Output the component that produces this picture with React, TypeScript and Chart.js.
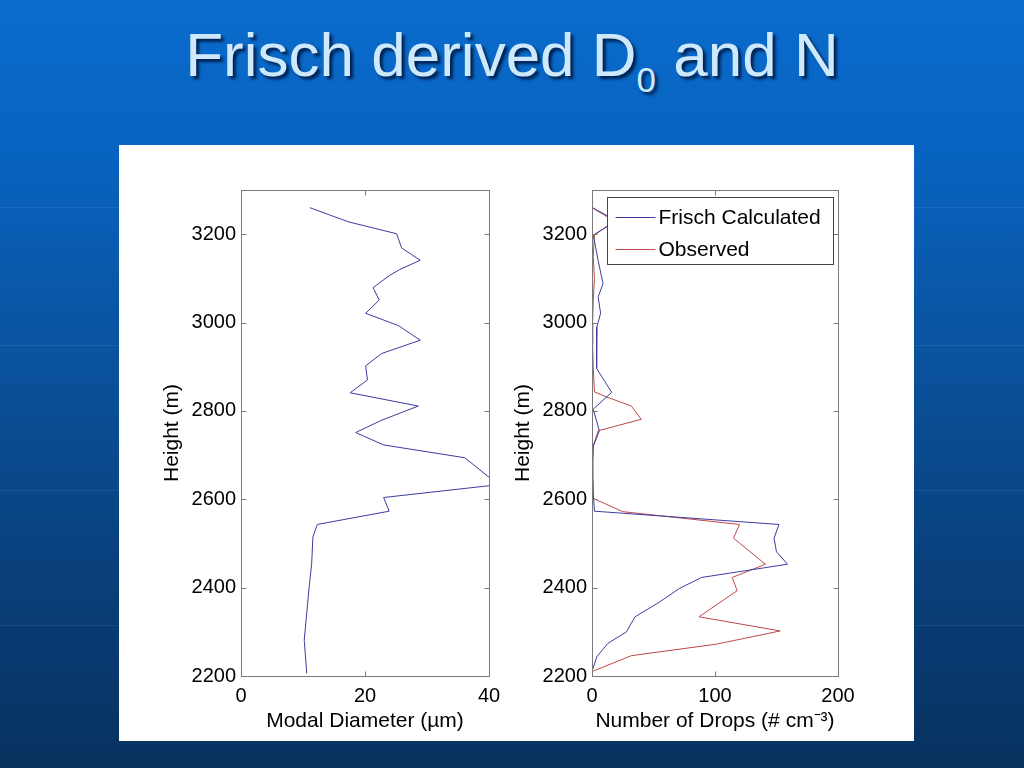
import React, { useEffect, useRef } from 'react';
import { Chart, registerables } from 'chart.js';

Chart.register(...registerables);

// ---- data ----
const heightTicks = [2200, 2400, 2600, 2800, 3000, 3200];
const diameterTicks = [0, 20, 40];
const dropTicks = [0, 100, 200];

const diameterHeights = [3260, 3228, 3201, 3169, 3141, 3120, 3107, 3079, 3051, 3021, 2993, 2960, 2930, 2902, 2870, 2841, 2811, 2779, 2751, 2723, 2694, 2633, 2604, 2573, 2543, 2515, 2455, 2402, 2342, 2281, 2206];
const diameterValues = [11.1, 17.3, 25.1, 25.9, 28.9, 25.6, 24.0, 21.3, 22.3, 20.1, 25.4, 28.9, 22.7, 20.1, 20.4, 17.6, 28.6, 22.7, 18.5, 23.0, 36.1, 41.5, 23.0, 23.9, 12.3, 11.6, 11.4, 11.0, 10.6, 10.2, 10.6];

const frischHeights = [3260, 3230, 3198, 3170, 3140, 3088, 3058, 3021, 2990, 2960, 2896, 2842, 2804, 2755, 2720, 2690, 2613, 2573, 2543, 2512, 2481, 2453, 2423, 2398, 2364, 2334, 2300, 2274, 2244, 2213];
const frischValues = [0.5, 20, 1, 3, 5, 9, 5, 7, 4, 3.5, 4, 16, 1, 6, 1, 0.5, 1, 2, 152, 148, 150, 159, 89, 71, 53, 35, 28, 13, 4, 0.3];

const observedHeights = [3260, 3230, 3198, 3150, 3100, 3050, 3000, 2950, 2900, 2843, 2833, 2811, 2781, 2755, 2720, 2650, 2602, 2572, 2543, 2512, 2453, 2423, 2393, 2334, 2302, 2272, 2246, 2210];
const observedValues = [0, 18, 2, 1, 2, 1, 0.5, 0.5, 1, 2, 10.6, 32, 40, 5, 1, 0.5, 1, 25, 120, 115, 141, 114, 118, 87, 153, 101, 32, 0];

const seriesLabels = ['Frisch Calculated', 'Observed'];

// ---- styles ----
const FONT = "'Liberation Sans', Arial, Helvetica, sans-serif";
const AXIS = '#7a7a7a';
const BLUE = '#3c3ca0';
const RED = '#c04848';
const TEXT = '#000000';

const boxPlugin = {
  id: 'matlabBox',
  afterDatasetsDraw(chart: any) {
    const { ctx, chartArea: a, scales } = chart;
    const L = Math.floor(a.left) + 0.5;
    const R = Math.floor(a.right) + 0.5;
    const T = Math.floor(a.top) + 0.5;
    const B = Math.floor(a.bottom) + 0.5;
    ctx.save();
    ctx.strokeStyle = AXIS;
    ctx.lineWidth = 1;
    ctx.strokeRect(L, T, R - L, B - T);
    const len = 5;
    ctx.beginPath();
    scales.x.ticks.forEach((t: any) => {
      const px = Math.round(scales.x.getPixelForValue(t.value)) + 0.5;
      ctx.moveTo(px, B); ctx.lineTo(px, B - len);
      ctx.moveTo(px, T); ctx.lineTo(px, T + len);
    });
    scales.y.ticks.forEach((t: any) => {
      const py = Math.round(scales.y.getPixelForValue(t.value)) + 0.5;
      ctx.moveTo(L, py); ctx.lineTo(L + len, py);
      ctx.moveTo(R, py); ctx.lineTo(R - len, py);
    });
    ctx.stroke();
    ctx.restore();
  },
};

const legendPlugin = {
  id: 'boxLegend',
  afterDatasetsDraw(chart: any) {
    const { ctx, chartArea: a } = chart;
    const ds = chart.data.datasets;
    ctx.save();
    ctx.font = `21px ${FONT}`;
    const textW = Math.max(...ds.map((d: any) => ctx.measureText(d.label).width));
    const w = Math.round(8 + 40 + 3 + textW + 13);
    const h = 67;
    const right = Math.floor(a.right) - 5 + 0.5;
    const left = right - w;
    const top = Math.floor(a.top) + 7 + 0.5;
    ctx.fillStyle = '#ffffff';
    ctx.fillRect(left, top, w, h);
    ctx.strokeStyle = '#444444';
    ctx.lineWidth = 1;
    ctx.strokeRect(left, top, w, h);
    ds.forEach((d: any, i: number) => {
      const cy = Math.round(top + 19 + i * 32) + 0.5;
      ctx.strokeStyle = d.borderColor;
      ctx.beginPath();
      ctx.moveTo(left + 8, cy);
      ctx.lineTo(left + 48, cy);
      ctx.stroke();
      ctx.fillStyle = TEXT;
      ctx.textBaseline = 'middle';
      ctx.textAlign = 'left';
      ctx.fillText(d.label, left + 51, cy + 1);
    });
    ctx.restore();
  },
};

function axis(opts: {
  min: number; max: number; tickValues: number[]; title: string; isX: boolean; fit: number;
}) {
  return {
    type: 'linear' as const,
    position: opts.isX ? 'bottom' : 'left',
    min: opts.min,
    max: opts.max,
    afterBuildTicks: (s: any) => { s.ticks = opts.tickValues.map((v) => ({ value: v })); },
    afterFit: (s: any) => { if (opts.isX) s.height = opts.fit; else s.width = opts.fit; },
    grid: { display: false, drawTicks: false },
    border: { display: false },
    ticks: {
      font: { family: FONT, size: 20 },
      color: TEXT,
      padding: opts.isX ? 8 : 5,
      maxRotation: 0,
      autoSkip: false,
      includeBounds: false,
      callback: (v: any) => String(v),
    },
    title: {
      display: true,
      text: opts.title,
      font: { family: FONT, size: 21 },
      color: TEXT,
      padding: opts.isX ? { top: 4, bottom: 7 } : { top: 4, bottom: 4 },
    },
  };
}

function line(label: string, xs: number[], ys: number[], color: string) {
  return {
    label,
    data: ys.map((h, i) => ({ x: xs[i], y: h })),
    showLine: true,
    borderColor: color,
    backgroundColor: color,
    borderWidth: 1,
    pointRadius: 0,
    pointHoverRadius: 0,
    fill: false,
    tension: 0,
  };
}

const bgLines = [207, 345, 490, 625];

export default function App() {
  const leftRef = useRef<HTMLCanvasElement>(null);
  const rightRef = useRef<HTMLCanvasElement>(null);

  useEffect(() => {
    const common = {
      animation: false as const,
      responsive: true,
      maintainAspectRatio: false,
      events: [] as any[],
      plugins: { legend: { display: false }, tooltip: { enabled: false }, title: { display: false } },
    };
    const left = new Chart(leftRef.current!, {
      type: 'scatter',
      data: { datasets: [line('Modal Diameter', diameterValues, diameterHeights, BLUE)] },
      options: {
        ...common,
        layout: { padding: { left: 37, top: 45, right: 26, bottom: 0 } },
        scales: {
          x: axis({ min: 0, max: 40, tickValues: diameterTicks, title: 'Modal Diameter (\u00b5m)', isX: true, fit: 65 }),
          y: axis({ min: 2200, max: 3300, tickValues: heightTicks, title: 'Height (m)', isX: false, fit: 85 }),
        },
      } as any,
      plugins: [boxPlugin],
    });
    const right = new Chart(rightRef.current!, {
      type: 'scatter',
      data: {
        datasets: [
          line(seriesLabels[0], frischValues, frischHeights, BLUE),
          line(seriesLabels[1], observedValues, observedHeights, RED),
        ],
      },
      options: {
        ...common,
        layout: { padding: { left: 1.4, top: 45, right: 76, bottom: 0 } },
        scales: {
          x: axis({ min: 0, max: 200, tickValues: dropTicks, title: 'Number of Drops (# cm\u207B\u00B3)', isX: true, fit: 65 }),
          y: axis({ min: 2200, max: 3300, tickValues: heightTicks, title: 'Height (m)', isX: false, fit: 85.6 }),
        },
      } as any,
      plugins: [boxPlugin, legendPlugin],
    });
    return () => { left.destroy(); right.destroy(); };
  }, []);

  return (
    <div
      style={{
        position: 'fixed', left: 0, top: 0, width: 1024, height: 768, overflow: 'hidden',
        background: 'linear-gradient(to bottom, #0a6ccc 0%, #0864c2 18%, #0a5099 50%, #093f7a 75%, #08325f 100%)',
        fontFamily: FONT,
      }}
    >
      {bgLines.map((y) => (
        <div
          key={y}
          style={{ position: 'absolute', left: 0, top: y, width: 1024, height: 1, background: 'rgba(150, 200, 255, 0.12)' }}
        />
      ))}
      <div
        style={{
          position: 'absolute', left: 0, top: 23.5, width: 1024, textAlign: 'center',
          fontSize: 62, lineHeight: 1, color: '#cde9fb', whiteSpace: 'nowrap',
          textShadow: '3px 3px 3px rgba(0, 20, 60, 0.85)',
        }}
      >
        Frisch derived D<span style={{ fontSize: 35, position: 'relative', top: 16 }}>0</span> and N
      </div>
      <div style={{ position: 'absolute', left: 119, top: 145, width: 795, height: 596, background: '#ffffff' }} />
      <div style={{ position: 'absolute', left: 119, top: 145, width: 396, height: 596 }}>
        <canvas ref={leftRef} />
      </div>
      <div style={{ position: 'absolute', left: 505, top: 145, width: 409, height: 596 }}>
        <canvas ref={rightRef} />
      </div>
    </div>
  );
}
